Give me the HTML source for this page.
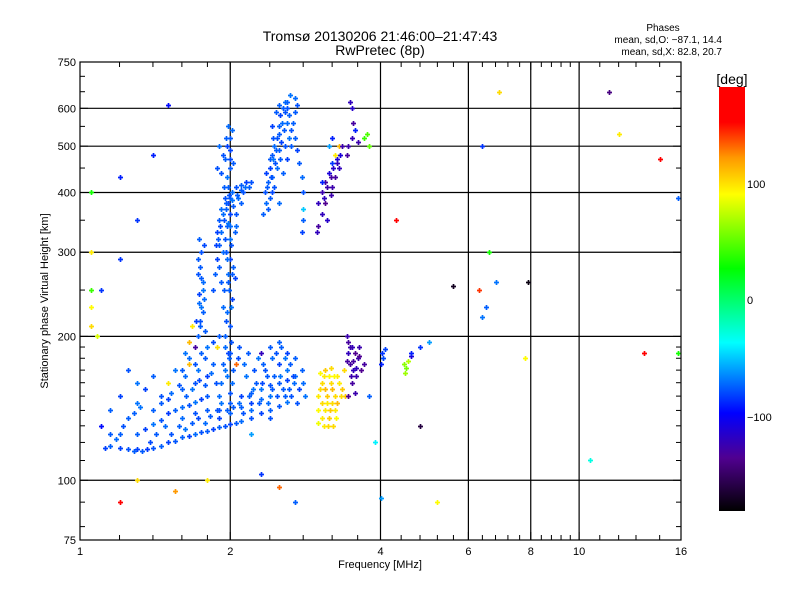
<!DOCTYPE html>
<html><head><meta charset="utf-8"><style>
html,body{margin:0;padding:0;background:#fff;}
svg{display:block;font-family:"Liberation Sans",sans-serif;}
</style></head><body>
<svg id="chart" width="800" height="600" viewBox="0 0 800 600">
<defs>
<linearGradient id="cbar" x1="0" y1="1" x2="0" y2="0">
<stop offset="0" stop-color="#000000"/>
<stop offset="0.125" stop-color="#500090"/>
<stop offset="0.231" stop-color="#0000ff"/>
<stop offset="0.397" stop-color="#00ffff"/>
<stop offset="0.572" stop-color="#00ff00"/>
<stop offset="0.747" stop-color="#ffff00"/>
<stop offset="0.833" stop-color="#ff9900"/>
<stop offset="0.917" stop-color="#ff0000"/>
<stop offset="1" stop-color="#ff0000"/>
</linearGradient>
</defs>
<text x="380" y="41" font-size="14" text-anchor="middle">Tromsø 20130206 21:46:00–21:47:43</text>
<text x="380" y="55" font-size="14" text-anchor="middle">RwPretec (8p)</text>
<g font-size="10" text-anchor="end">
<text x="663" y="31" text-anchor="middle">Phases</text>
<text x="722" y="43">mean, sd,O: −87.1, 14.4</text>
<text x="722" y="55">mean, sd,X:  82.8, 20.7</text>
</g>
<g id="grid"></g>
<g id="points"></g>
<rect x="80" y="62" width="601" height="478" fill="none" stroke="#000" stroke-width="1.2"/>
<g id="axes"></g>
<text x="380" y="568" font-size="11" text-anchor="middle">Frequency [MHz]</text>
<text x="48" y="301" font-size="11" text-anchor="middle" transform="rotate(-90 48 301)">Stationary phase Virtual Height [km]</text>
<rect x="719" y="87" width="26" height="424" fill="url(#cbar)"/>
<text x="732" y="84" font-size="14" text-anchor="middle">[deg]</text>
<g font-size="11">
<text x="747" y="188">100</text>
<text x="747" y="304">0</text>
<text x="747" y="421">−100</text>
</g>
</svg>
<script>
const xTicks=[1,2,4,6,8,10,16];
const xMinor=[1.2,1.4,1.6,1.8,2.4,2.8,3.2,3.6,4.4,4.8,5.2,5.6,6.4,6.8,7.2,7.6,8.4,8.8,9.2,9.6,11,12,13,14.5];
const yTicks=[75,100,200,300,400,500,600,750];
const yGrid=[100,200,300,400,500,600];
const yMinor=[80,90,110,120,130,140,150,160,170,180,190,250,350,450,550,650,700];
const xGrid=[2,4,6,8,10];
const freq=[
1.12,1.15,1.2,1.25,1.28,1.3,1.33,1.36,1.4,1.45,1.5,1.55,1.6,1.65,1.7,1.75,1.8,1.85,1.9,1.95,2.0,2.05,2.1,2.2,2.3,2.4,2.5,2.6,
1.3,1.35,1.4,1.45,1.5,1.55,1.6,1.65,1.7,1.75,1.8,1.9,2.0,2.1,2.2,2.3,2.4,2.5,2.6,2.7,
1.1,1.15,1.2,1.25,1.3,1.35,1.4,1.45,1.5,1.55,1.5,1.6,1.62,1.65,1.7,1.72,1.78,1.8,1.85,1.88,1.9,1.92,1.95,1.98,2.0,2.02,2.05,2.08,2.1,2.15,2.2,2.25,2.3,2.35,2.4,2.45,2.5,2.55,2.6,2.65,2.7,2.75,2.8,2.3,2.4,2.5,2.6,1.4,1.3,1.25,1.2,1.6,1.7,1.8,1.9,2.0,2.2,2.4,
1.72,1.74,1.75,1.73,1.76,1.74,1.75,1.73,1.7,1.78,1.77,1.72,1.76,1.71,1.65,1.62,1.68,
1.95,2.0,1.97,2.02,1.98,2.03,1.96,2.0,2.05,1.94,2.01,1.99,2.04,1.93,
1.85,1.86,1.88,1.9,1.92,1.94,1.96,1.98,2.0,2.02,2.05,2.1,2.15,1.9,1.93,1.95,1.97,2.0,2.03,2.07,2.12,2.18,1.88,1.9,1.92,1.95,1.98,1.87,1.96,2.0,2.05,2.1,2.0,1.92,1.98,
1.92,1.95,1.97,2.0,2.02,1.93,1.96,2.0,2.03,1.9,1.88,
2.35,2.38,2.4,2.42,2.45,2.48,2.5,2.52,2.55,2.58,2.6,2.62,2.36,2.4,2.43,2.46,2.5,2.53,2.56,2.6,2.65,2.7,2.72,2.75,2.78,2.8,2.8,2.8,2.79,2.38,2.5,2.45,2.55,2.6,2.65,2.7,2.72,2.33,2.42,2.47,
3.0,3.05,3.1,3.15,3.2,3.25,3.3,3.05,3.1,3.2,3.25,3.3,3.28,3.15,3.2,3.35,3.0,2.98,3.12,
3.45,3.5,3.52,3.5,3.48,3.55,3.42,3.6,3.7,3.75,3.8,
3.0,3.05,3.1,3.15,3.2,3.25,3.3,3.35,3.0,3.05,3.1,3.15,3.2,3.25,3.1,3.02,3.18,3.28,3.4,3.38,3.0,3.08,3.22,
3.42,3.45,3.5,3.55,3.6,3.48,3.52,3.58,3.65,3.7,3.44,3.62,3.5,3.45,3.55,
4.02,4.05,4.0,4.08,4.45,4.5,4.55,4.6,4.48,4.6,4.8,
1.05,1.05,1.05,1.08,1.05,1.05,1.1,1.2,1.2,1.3,1.4,1.5,1.2,1.3,1.55,1.8,2.2,2.3,2.5,2.7,4.0,5.2,6.4,6.5,6.4,6.8,7.9,6.3,7.8,5.6,4.3,11.5,12,14.5,15.8,10.5,13.5,15.8,6.9,6.6,5.0,3.9,4.8,3.8
];
const height=[
117,118,117,116,115,116,115,116,117,118,120,121,123,124,125,126,127,128,129,130,131,132,133,135,138,140,143,146,
125,128,131,134,138,140,142,144,146,148,150,150,152,150,152,155,158,160,162,165,
130,140,150,135,145,155,140,150,160,170,148,155,165,175,160,170,180,165,175,190,140,160,170,185,145,160,175,190,142,165,145,160,148,170,150,165,175,155,170,150,180,155,160,185,190,195,185,165,160,170,125,135,138,140,135,138,140,135,
200,215,230,245,260,280,300,320,190,205,240,270,225,215,195,185,210,
200,210,225,240,260,280,300,320,340,250,195,180,265,230,
250,270,290,310,330,350,370,380,390,400,410,415,420,280,300,320,340,360,375,390,400,410,330,350,370,390,410,310,300,340,360,380,290,260,270,
440,470,500,520,540,480,520,490,460,500,450,
400,420,450,480,500,520,550,580,600,620,600,580,440,470,430,460,490,510,540,560,540,520,490,460,430,400,370,350,330,370,380,410,440,470,500,630,610,360,550,590,
380,400,420,440,460,480,500,360,380,410,430,450,470,500,520,500,340,330,350,
500,520,560,600,620,540,480,510,520,530,500,
150,160,170,165,155,150,160,155,140,145,140,135,145,140,155,168,172,165,150,170,132,130,130,
200,195,190,185,180,175,170,165,170,175,185,190,160,150,152,
185,180,175,188,175,172,178,182,168,185,190,
250,230,210,200,400,300,250,290,430,350,480,610,90,100,95,100,125,103,97,90,92,90,500,230,220,260,260,250,180,255,350,650,530,470,390,110,185,185,650,300,195,120,130,150
];
const phase=[
-82,-75,-82,-78,-75,-82,-76,-84,-78,-75,-82,-77,-75,-82,-72,-78,-76,-82,-75,-78,-82,-76,-72,-78,-82,-75,-77,-70,
-75,-82,-70,-78,-84,-75,-72,-78,-70,-82,-76,-72,-78,-82,-75,-70,-78,-76,-82,-72,
-95,-75,-82,-75,-70,-82,-75,-78,95,-70,-82,-75,-72,110,-78,-70,-76,-82,-75,100,-78,-72,-70,-82,-76,-72,130,-78,-75,-70,-82,-76,-72,-78,-70,-75,-82,-76,-70,-78,-75,-82,-72,-120,-76,-75,-82,-75,-70,-78,-75,-72,-78,-76,-82,-75,-72,-78,
-75,-78,-70,-82,-72,-76,-78,-75,-130,-76,-72,-78,-75,-82,110,-70,95,
-75,-78,-72,-82,-76,-75,-78,-70,-72,-76,-78,-75,-82,-72,
-78,-75,-82,-76,-72,-78,-75,-82,-76,-72,-78,-75,-82,-76,-72,-78,-75,-82,-76,-72,-78,-75,-82,-76,-72,-78,-75,-82,-76,-72,-78,-75,-82,-76,-72,
-78,-75,-82,-76,-72,-78,-75,-82,-76,-72,-78,
-78,-75,-82,-76,-72,-78,-75,-82,-76,-72,-78,-75,-82,-76,-72,-78,-75,-82,-76,-72,-78,-75,-82,-76,-72,-78,-50,-75,-82,-76,-72,-78,-75,-82,-76,-72,-78,-75,-82,-76,
-120,-125,-130,-110,-85,95,110,-120,-135,-125,-130,-120,-110,-60,-90,-125,-130,-120,-115,
-125,-120,-130,-115,-120,-90,-130,-125,40,45,50,
95,100,105,90,110,100,95,105,90,100,95,105,100,95,110,90,100,95,105,100,85,95,100,
-125,-130,-120,-135,-125,-130,-120,-125,-135,-130,-120,-125,-130,-135,-125,
-85,-80,-90,-82,60,55,70,-110,65,-90,-85,
40,90,100,80,30,95,-85,-85,-90,-85,-90,-95,150,100,120,95,-60,-85,130,-75,-60,90,-85,-75,-70,-70,-175,140,90,-170,150,-140,95,170,-75,-30,170,30,100,30,-60,-40,-160,-75
];
const freqB=[
1.15,1.18,1.22,1.28,1.32,1.38,1.42,1.48,1.52,1.58,1.62,1.68,1.72,1.78,1.82,1.88,1.92,1.97,2.03,2.08,2.12,2.18,2.22,2.28,2.32,2.38,2.42,2.48,2.52,2.58,2.62,2.68,2.72,2.78,2.82,
1.45,1.52,1.58,1.63,1.68,1.73,1.78,1.83,1.87,1.93,1.97,2.03,2.07,2.13,2.17,2.23,2.27,2.33,2.37,2.43,2.47,2.53,2.57,2.63,2.67,
1.6,1.65,1.7,1.75,1.8,1.85,1.9,1.95,2.0,
1.74,1.76,1.72,1.77,1.73,1.75,
1.96,2.01,1.99,2.02,1.97,2.01,2.04,1.98,
1.89,1.91,1.93,1.96,1.99,2.02,2.06,2.1,2.14,2.2,1.94,1.97,2.0,2.0,1.98,
2.37,2.41,2.44,2.47,2.5,2.54,2.57,2.6,2.63,2.4,2.43,2.48,2.52,2.58,2.62,2.67,2.7,2.36,2.44,2.5,
3.08,3.12,3.18,3.22,3.27,3.32,3.18,3.05,
3.03,3.08,3.13,3.18,3.23,3.28,3.33,3.12,3.17,3.06,3.14,3.26,
3.47,3.53,3.57,3.63,3.49,3.42
];
const heightB=[
125,122,130,138,142,120,125,130,125,130,128,132,135,132,136,140,145,140,142,145,138,150,155,145,160,145,155,150,165,150,155,160,145,170,150,
145,152,158,150,155,162,158,168,160,175,165,170,180,175,185,170,180,175,165,180,185,190,180,175,165,
170,180,175,185,190,195,200,190,185,
210,250,290,310,235,265,
215,230,250,270,290,310,330,345,
320,340,360,380,395,385,395,405,410,420,410,430,450,470,550,
410,430,470,490,530,560,590,620,640,390,400,450,470,500,520,560,590,380,520,610,
390,410,430,450,460,480,395,420,
155,165,150,160,165,145,150,145,140,135,130,135,
190,178,172,182,165,178
];
const phaseB=[
-76,-72,-78,-75,-70,-80,-76,-72,-78,-75,-70,-76,-80,-72,-76,-78,-70,-75,-76,-72,-78,-75,-70,-76,-80,-72,-76,-78,-70,-75,-76,-72,-78,-75,-70,
-76,-72,-78,-75,-70,-80,-76,-72,-78,-75,-70,-76,-80,-72,-76,-78,-70,-75,-76,-72,-78,-75,-70,-76,-80,
-76,-72,-78,-75,-70,-80,-76,-72,-78,
-75,-70,-76,-80,-72,-76,
-78,-70,-75,-76,-72,-78,-75,-70,
-76,-80,-72,-76,-78,-70,-75,-76,-72,-78,-75,-70,-76,-80,-72,
-76,-78,-70,-75,-76,-72,-78,-75,-70,-76,-80,-72,-76,-78,-70,-75,-76,-72,-78,-75,
-120,-125,-130,-115,-120,-110,-125,-90,
100,95,105,100,90,110,100,95,105,95,100,90,
-125,-130,-120,-135,-125,-130
];

const X0=80,X1=681,Y0=62,Y1=540;
function xs(f){return X0+(X1-X0)*Math.log2(f)/Math.log2(16);}
function ys(h){return Y1-(Y1-Y0)*Math.log10(h/75)/Math.log10(750/75);}
const stopsP=[-180,-135,-97,-37,26,89,120,150,180];
const stopsC=[[0,0,0],[80,0,144],[0,0,255],[0,255,255],[0,255,0],[255,255,0],[255,153,0],[255,0,0],[255,0,0]];
function pcol(p){
  p=Math.max(-180,Math.min(180,p));
  for(let i=0;i<stopsP.length-1;i++){
    if(p<=stopsP[i+1]){
      const t=(p-stopsP[i])/(stopsP[i+1]-stopsP[i]);
      const a=stopsC[i],b=stopsC[i+1];
      return 'rgb('+a.map((v,k)=>Math.round(v+(b[k]-v)*t)).join(',')+')';
    }
  }
  return 'rgb(255,0,0)';
}
const NS='http://www.w3.org/2000/svg';
function mk(tag,attrs,parent){const e=document.createElementNS(NS,tag);for(const k in attrs)e.setAttribute(k,attrs[k]);parent.appendChild(e);return e;}
const grid=document.getElementById('grid');
xGrid.forEach(v=>{
  const l=mk('line',{x1:xs(v),x2:xs(v),y1:Y0,y2:Y1,stroke:'#000','stroke-width':1.2},grid);
  
  
});
yGrid.forEach(v=>{
  const l=mk('line',{x1:X0,x2:X1,y1:ys(v),y2:ys(v),stroke:'#000','stroke-width':1.2},grid);
  
  
});
const axes=document.getElementById('axes');
xTicks.forEach(v=>{
  const x=xs(v);
  mk('line',{x1:x,x2:x,y1:Y1,y2:Y1-8,stroke:'#000'},axes);
  mk('line',{x1:x,x2:x,y1:Y0,y2:Y0+8,stroke:'#000'},axes);
  const t=mk('text',{x:x,y:Y1+15,'font-size':11,'text-anchor':'middle'},axes);
  t.textContent=v;
  
  
});
xMinor.forEach(v=>{
  const x=xs(v);
  mk('line',{x1:x,x2:x,y1:Y1,y2:Y1-5,stroke:'#000'},axes);
  mk('line',{x1:x,x2:x,y1:Y0,y2:Y0+5,stroke:'#000'},axes);
});
yTicks.forEach(v=>{
  const y=ys(v);
  mk('line',{x1:X0,x2:X0+8,y1:y,y2:y,stroke:'#000'},axes);
  mk('line',{x1:X1,x2:X1-8,y1:y,y2:y,stroke:'#000'},axes);
  const t=mk('text',{x:X0-4,y:y+4,'font-size':11,'text-anchor':'end'},axes);
  t.textContent=v;
  
  
});
yMinor.forEach(v=>{
  const y=ys(v);
  mk('line',{x1:X0,x2:X0+5,y1:y,y2:y,stroke:'#000'},axes);
  mk('line',{x1:X1,x2:X1-5,y1:y,y2:y,stroke:'#000'},axes);
});
const pts=document.getElementById('points');
function drawPoint(f,h,ph){
  const x=Math.round(xs(f))+0.5,y=Math.round(ys(h))+0.5;
  const p=mk('path',{d:'M'+(x-2.5)+' '+y+'h5M'+x+' '+(y-2.5)+'v5',stroke:pcol(ph),'stroke-width':1.7,fill:'none'},pts);
  
  
}
for(let i=0;i<freq.length;i++){drawPoint(freq[i],height[i],phase[i]);}
for(let i=0;i<freqB.length;i++){drawPoint(freqB[i],heightB[i],phaseB[i]);}
</script>
</body></html>
